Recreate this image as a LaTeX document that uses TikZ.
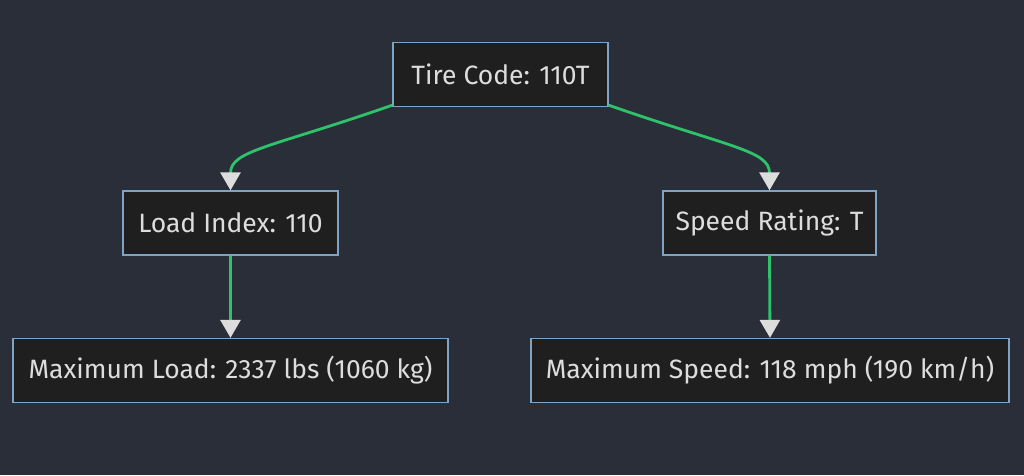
\documentclass[tikz,border=0pt]{standalone}
\usepackage{fontspec}
\setmainfont{Fira Sans}
\usetikzlibrary{arrows.meta}
\definecolor{bg}{HTML}{2A2E39}
\definecolor{nodefill}{HTML}{1F1F1F}
\definecolor{nodeline}{HTML}{7FA3C4}
\definecolor{txt}{HTML}{DDDDDD}
\definecolor{edge}{HTML}{2EC36B}
\definecolor{tip}{HTML}{DDDDDD}
\tikzset{
  box/.style={draw=nodeline, line width=1.3pt, fill=nodefill, text=txt,
    font=\fontsize{26.5}{30}\selectfont, inner sep=0pt, minimum height=64pt},
  link/.style={draw=edge, line width=2.8pt,
    -{Triangle[width=20pt,length=18pt,fill=tip,color=tip]}},
}
\begin{document}
\begin{tikzpicture}[x=1pt,y=-1pt]
\fill[bg] (0,0) rectangle (1024,475);
\useasboundingbox (0,0) rectangle (1024,475);
\node[box, minimum width=215pt] (tc) at (500.5,74.5) {Tire Code: 110T};
\node[box, minimum width=215pt] (li) at (230.5,223) {Load Index: 110};
\node[box, minimum width=213pt] (sr) at (769.5,223) {Speed Rating: T};
\node[box, minimum width=435pt] (ml) at (230.5,370.5) {Maximum Load: 2337 lbs (1060 kg)};
\node[box, minimum width=478pt] (ms) at (770,370.5) {Maximum Speed: 118 mph (190 km/h)};
\draw[link] (tc.south west) ++(0,-2) .. controls +(-120,42) and +(0,-40) .. (li.north);
\draw[link] (tc.south east) ++(0,-2) .. controls +(120,42) and +(0,-40) .. (sr.north);
\draw[link] (li.south) -- (ml.north);
\draw[link] (sr.south) -- (ms.north);
\end{tikzpicture}
\end{document}
